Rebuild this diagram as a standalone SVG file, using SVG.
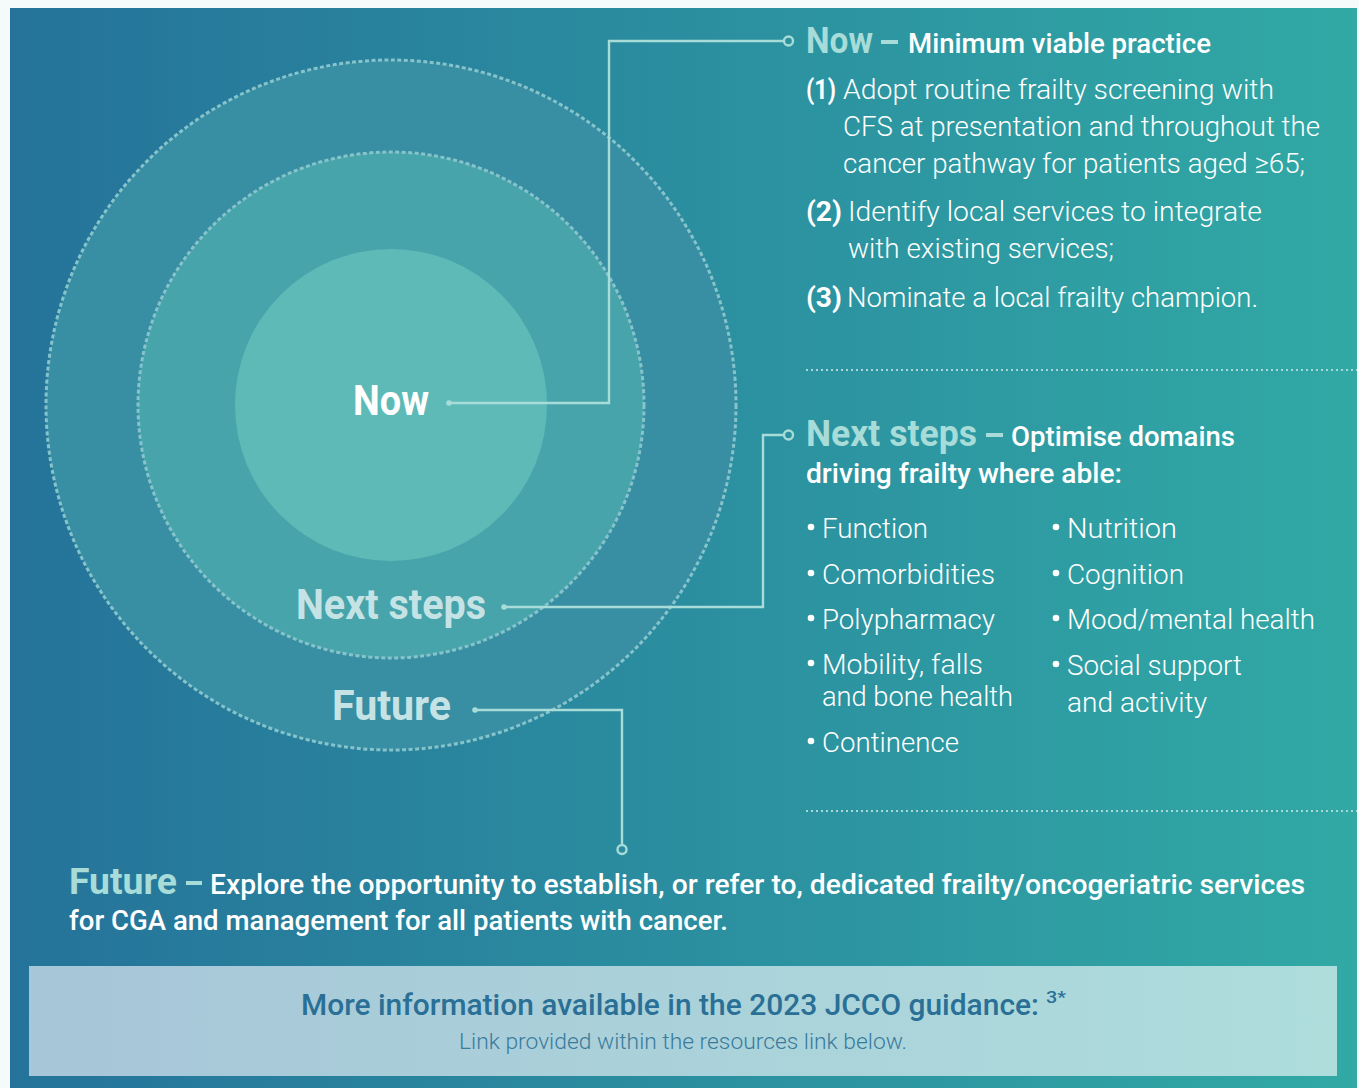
<svg xmlns="http://www.w3.org/2000/svg" width="1359" height="1088" viewBox="0 0 1359 1088">
  <defs>
    <linearGradient id="bg" x1="0" y1="0" x2="1" y2="0">
      <stop offset="0" stop-color="#25739a"/>
      <stop offset="1" stop-color="#31a9a5"/>
    </linearGradient>
    <linearGradient id="box" x1="0" y1="0" x2="1" y2="0">
      <stop offset="0" stop-color="#a7c6d8"/>
      <stop offset="1" stop-color="#aedddc"/>
    </linearGradient>
    <style>
      .t{font-family:Roboto,"Noto Sans",sans-serif;}
      .lt{font-weight:300;font-size:28px;fill:#ffffff;}
      .num{font-weight:700;font-size:28px;fill:#ffffff;}
      .hd{font-weight:700;font-size:37px;fill:#a8dcd8;}
      .sub{font-weight:500;font-size:28px;fill:#ffffff;}
      .lbl{font-weight:700;font-size:42px;}
      .conn{fill:none;stroke:#a8dcd8;stroke-width:2.4;}
      .ring{stroke:#86c3cb;stroke-width:3;stroke-dasharray:4 2.5;}
      .sep{stroke:#a8d8d8;stroke-width:2;stroke-dasharray:2 3;}
    </style>
  </defs>
  <rect width="1359" height="1088" fill="#f5fafb"/>
  <rect x="10" y="8" width="1347" height="1080" fill="url(#bg)"/>

  <g id="circles">
    <circle cx="391" cy="405" r="345" fill="#388ea3" class="ring"/>
    <circle cx="391" cy="405" r="253" fill="#48a4ab" class="ring"/>
    <circle cx="391" cy="405" r="156" fill="#5dbab7"/>
  </g>

  <g id="node-now-label">
    <text class="t lbl" x="353" y="415" fill="#ffffff" textLength="76" lengthAdjust="spacingAndGlyphs">Now</text>
  </g>
  <g id="node-next-label">
    <text class="t lbl" x="296" y="619" fill="#c5e3e5" textLength="190" lengthAdjust="spacingAndGlyphs">Next steps</text>
  </g>
  <g id="node-future-label">
    <text class="t lbl" x="332" y="720" fill="#c5e3e5" textLength="119" lengthAdjust="spacingAndGlyphs">Future</text>
  </g>

  <g id="connectors">
    <polyline class="conn" points="449,403 609,403 609,41 784,41"/>
    <circle cx="449" cy="403" r="2.8" fill="#a8dcd8"/>
    <circle cx="788.5" cy="41" r="4.5" class="conn"/>
    <polyline class="conn" points="504,607 763,607 763,435 784,435"/>
    <circle cx="504" cy="607" r="2.8" fill="#a8dcd8"/>
    <circle cx="788.5" cy="435" r="4.5" class="conn"/>
    <polyline class="conn" points="475,710 622,710 622,845"/>
    <circle cx="475" cy="710" r="2.8" fill="#a8dcd8"/>
    <circle cx="622" cy="849.5" r="4.5" class="conn"/>
  </g>

  <g id="node-now">
    <text class="t hd" x="806" y="53" textLength="67" lengthAdjust="spacingAndGlyphs">Now</text>
    <rect x="881" y="40" width="17" height="4" fill="#a8dcd8"/>
    <text class="t sub" x="908" y="53" textLength="303" lengthAdjust="spacingAndGlyphs">Minimum viable practice</text>
    <text class="t num" x="806" y="99" textLength="30" lengthAdjust="spacingAndGlyphs">(1)</text>
    <text class="t lt" x="843" y="99" textLength="431" lengthAdjust="spacingAndGlyphs">Adopt routine frailty screening with</text>
    <text class="t lt" x="843" y="136" textLength="477" lengthAdjust="spacingAndGlyphs">CFS at presentation and throughout the</text>
    <text class="t lt" x="843" y="173" textLength="462" lengthAdjust="spacingAndGlyphs">cancer pathway for patients aged ≥65;</text>
    <text class="t num" x="806" y="221" textLength="36" lengthAdjust="spacingAndGlyphs">(2)</text>
    <text class="t lt" x="848" y="221" textLength="414" lengthAdjust="spacingAndGlyphs">Identify local services to integrate</text>
    <text class="t lt" x="848" y="258" textLength="266" lengthAdjust="spacingAndGlyphs">with existing services;</text>
    <text class="t num" x="806" y="307" textLength="36" lengthAdjust="spacingAndGlyphs">(3)</text>
    <text class="t lt" x="847" y="307" textLength="411" lengthAdjust="spacingAndGlyphs">Nominate a local frailty champion.</text>
  </g>

  <line class="sep" x1="806" y1="370" x2="1357" y2="370"/>

  <g id="node-next">
    <text class="t hd" x="806" y="446" textLength="171" lengthAdjust="spacingAndGlyphs">Next steps</text>
    <rect x="986" y="433" width="17" height="4" fill="#a8dcd8"/>
    <text class="t sub" x="1011" y="446" textLength="224" lengthAdjust="spacingAndGlyphs">Optimise domains</text>
    <text class="t sub" x="806" y="483" textLength="316" lengthAdjust="spacingAndGlyphs">driving frailty where able:</text>
    <g fill="#ffffff">
      <circle cx="811" cy="527" r="3.3"/>
      <circle cx="811" cy="573" r="3.3"/>
      <circle cx="811" cy="618" r="3.3"/>
      <circle cx="811" cy="663" r="3.3"/>
      <circle cx="811" cy="741" r="3.3"/>
      <circle cx="1056" cy="527" r="3.3"/>
      <circle cx="1056" cy="573" r="3.3"/>
      <circle cx="1056" cy="618" r="3.3"/>
      <circle cx="1056" cy="664" r="3.3"/>
    </g>
    <text class="t lt" x="822" y="538" textLength="106" lengthAdjust="spacingAndGlyphs">Function</text>
    <text class="t lt" x="822" y="584" textLength="173" lengthAdjust="spacingAndGlyphs">Comorbidities</text>
    <text class="t lt" x="822" y="629" textLength="173" lengthAdjust="spacingAndGlyphs">Polypharmacy</text>
    <text class="t lt" x="822" y="674" textLength="161" lengthAdjust="spacingAndGlyphs">Mobility, falls</text>
    <text class="t lt" x="822" y="706" textLength="191" lengthAdjust="spacingAndGlyphs">and bone health</text>
    <text class="t lt" x="822" y="752" textLength="137" lengthAdjust="spacingAndGlyphs">Continence</text>
    <text class="t lt" x="1067" y="538" textLength="110" lengthAdjust="spacingAndGlyphs">Nutrition</text>
    <text class="t lt" x="1067" y="584" textLength="117" lengthAdjust="spacingAndGlyphs">Cognition</text>
    <text class="t lt" x="1067" y="629" textLength="248" lengthAdjust="spacingAndGlyphs">Mood/mental health</text>
    <text class="t lt" x="1067" y="675" textLength="175" lengthAdjust="spacingAndGlyphs">Social support</text>
    <text class="t lt" x="1067" y="712" textLength="140" lengthAdjust="spacingAndGlyphs">and activity</text>
  </g>

  <line class="sep" x1="806" y1="811" x2="1357" y2="811"/>

  <g id="node-future">
    <text class="t hd" x="69" y="894" textLength="108" lengthAdjust="spacingAndGlyphs">Future</text>
    <rect x="186" y="881" width="16" height="4" fill="#a8dcd8"/>
    <text class="t sub" x="210" y="894" textLength="1095" lengthAdjust="spacingAndGlyphs">Explore the opportunity to establish, or refer to, dedicated frailty/oncogeriatric services</text>
    <text class="t sub" x="69" y="930" textLength="659" lengthAdjust="spacingAndGlyphs">for CGA and management for all patients with cancer.</text>
  </g>

  <g id="node-info">
    <rect x="29" y="966" width="1308" height="110" fill="url(#box)"/>
    <text class="t" x="301" y="1015" font-size="30" font-weight="500" fill="#2a6f95" textLength="738" lengthAdjust="spacingAndGlyphs">More information available in the 2023 JCCO guidance:</text>
    <text class="t" x="1046" y="1003" font-size="16" font-weight="500" fill="#2a6f95" textLength="20" lengthAdjust="spacingAndGlyphs">3*</text>
    <text class="t" x="459" y="1049" font-size="22" font-weight="300" fill="#3a7b9c" textLength="448" lengthAdjust="spacingAndGlyphs">Link provided within the resources link below.</text>
  </g>
</svg>
